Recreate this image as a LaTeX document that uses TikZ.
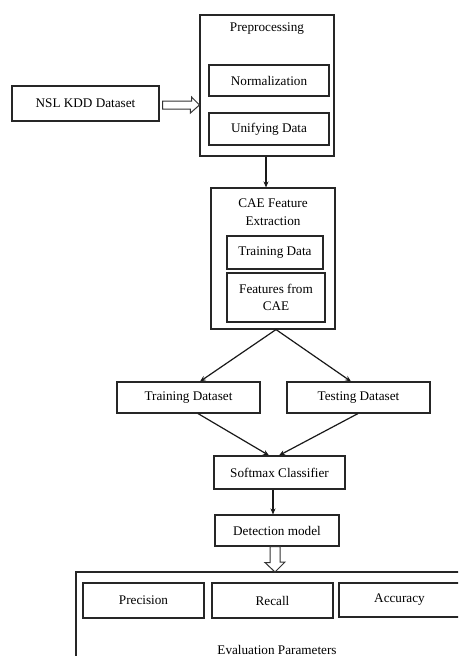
\documentclass[tikz,border=0pt]{standalone}
\usepackage{fontspec}
\setmainfont{Liberation Serif}
\usetikzlibrary{arrows.meta,calc}
\begin{document}
\begin{tikzpicture}[x=1pt,y=-1pt,
  font=\fontsize{13.2}{15.5}\selectfont,
  boxx/.style={draw=black!85,line width=1.1pt,inner sep=0pt,align=center},
  conn/.style={draw=black!90,line width=1.2pt,-{Stealth[length=6pt,width=5pt]}},
  hollow/.style={draw=black!80,line width=1pt,fill=white}]
\useasboundingbox (0,0) rectangle (458,656);
% top
\node[boxx,minimum width=134pt,minimum height=141pt] (pre) at (267,85.5) {};
\node (pretitle) at (267,29) {Preprocessing};
\node[boxx,minimum width=120pt,minimum height=31pt] (norm) at (269,80.5) {Normalization};
\node[boxx,minimum width=120pt,minimum height=32pt] (unify) at (269,129) {Unifying Data};
\node[boxx,minimum width=147pt,minimum height=35pt] (nsl) at (85.5,103.5) {NSL KDD Dataset};
% CAE
\node[boxx,minimum width=124pt,minimum height=141pt] (cae) at (273,258.5) {};
\node[align=center] (caetitle) at (273,212) {CAE Feature\\[2pt]Extraction};
\node[boxx,minimum width=96pt,minimum height=33pt] (tdata) at (275,252.5) {Training Data};
\node[boxx,minimum width=98pt,minimum height=49pt] (feat) at (276,297.5) {Features from\\[2pt]CAE};
% datasets
\node[boxx,minimum width=143pt,minimum height=31pt] (trainds) at (188.5,397.5) {Training Dataset};
\node[boxx,minimum width=143pt,minimum height=31pt] (testds) at (358.5,397.5) {Testing Dataset};
\node[boxx,minimum width=131pt,minimum height=33pt] (soft) at (279.5,472.5) {Softmax Classifier};
\node[boxx,minimum width=124pt,minimum height=31pt] (det) at (277,530.5) {Detection model};
% evaluation
\begin{scope}
\clip (0,0) rectangle (458,656);
\draw[draw=black!85,line width=1.1pt] (76,572) coordinate (evtl) rectangle (470,675);
\node[boxx,minimum width=121pt,minimum height=35pt] (prec) at (143.5,600.5) {Precision};
\node[boxx,minimum width=121pt,minimum height=35pt] (rec) at (272.5,600.5) {Recall};
\node[boxx,minimum width=121pt,minimum height=34pt] (acc) at (399.5,600) {Accuracy};
\end{scope}
\node (evlabel) at (277,650) {Evaluation Parameters};
% hollow arrow NSL -> Preprocessing
\draw[hollow] ($(nsl.east)+(3,-2.5)$) -- ++(29,0) -- ++(0,-4) -- ($(pre.west |- nsl.east)+(0,1.5)$)
  -- ++(-9,8) -- ++(0,-4) -- ($(nsl.east)+(3,5.5)$) -- cycle;
% hollow arrow Detection -> Evaluation
\draw[hollow] ($(det.south)+(-7,0)$) -- ++(0,16) -- ++(-5,0) -- ($(det.south |- evtl)+(-2,0)$) -- ++(10,-10)
  -- ++(-5,0) -- ($(det.south)+(3,0)$) -- cycle;
% connectors
\draw[conn] ($(pre.south)+(-1,0)$) -- ($(pre.south |- cae.north)+(-1,0)$);
\draw[conn] ($(cae.south)+(3,0)$) -- ($(trainds.north)+(11.5,0)$);
\draw[conn] ($(cae.south)+(3,0)$) -- ($(testds.north)+(-7.5,0)$);
\draw[conn] ($(trainds.south)+(9.5,0)$) -- ($(soft.north)+(-10.5,0)$);
\draw[conn] ($(testds.south)+(-0.5,0)$) -- ($(soft.north)+(-0.5,0)$);
\draw[conn] ($(soft.south)+(-6.5,0)$) -- ($(soft.south |- det.north)+(-6.5,0)$);
\end{tikzpicture}
\end{document}
